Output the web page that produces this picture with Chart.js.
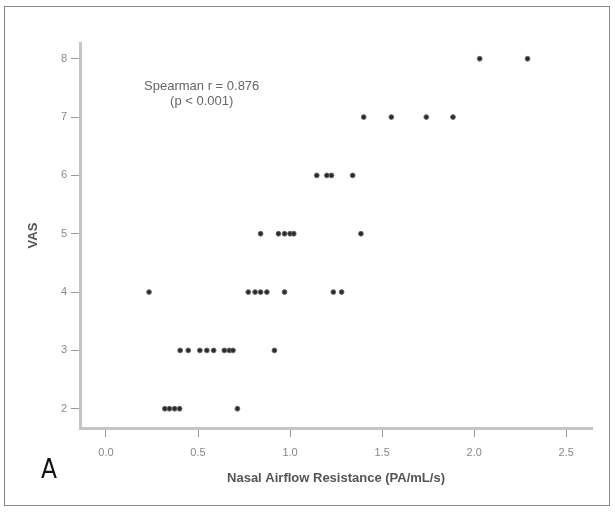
<!DOCTYPE html>
<html>
<head>
<meta charset="utf-8">
<script src="https://cdn.jsdelivr.net/npm/chart.js@4.4.1/dist/chart.umd.min.js"></script>
<style>
  html, body { margin: 0; padding: 0; background: #fff; }
  #wrap { position: relative; width: 615px; height: 512px; }
  #frame { position: absolute; left: 4px; top: 6px; width: 606px; height: 500px; border: 1px solid #8a8a8a; box-sizing: border-box; pointer-events: none; }
  #panel { position: absolute; left: 41px; top: 454px; font: 26px "Liberation Sans Narrow", "DejaVu Sans Condensed", sans-serif; color: #111; }
</style>
</head>
<body>
<div id="wrap">
  <canvas id="chart" width="615" height="512"></canvas>
  <div id="frame"></div>
  <div id="panel">A</div>
</div>
<script>
// VAS score groups and the nasal airflow resistance of each patient
const vasLevels = [2, 3, 4, 5, 6, 7, 8];
const vas2 = [0.32, 0.345, 0.373, 0.40, 0.714];
const vas3 = [0.403, 0.447, 0.51, 0.548, 0.585, 0.643, 0.67, 0.69, 0.915];
const vas4 = [0.234, 0.773, 0.81, 0.84, 0.874, 0.97, 1.235, 1.28];
const vas5 = [0.84, 0.937, 0.97, 1.0, 1.02, 1.385];
const vas6 = [1.145, 1.20, 1.225, 1.34];
const vas7 = [1.40, 1.55, 1.74, 1.885];
const vas8 = [2.03, 2.29];
const xTicks = [0.0, 0.5, 1.0, 1.5, 2.0, 2.5];

const groups = [vas2, vas3, vas4, vas5, vas6, vas7, vas8];
const datasets = groups.map((xs, i) => ({
  label: 'VAS ' + vasLevels[i],
  data: xs.map(x => ({ x: x, y: vasLevels[i] })),
  pointRadius: 2.4,
  pointBackgroundColor: '#2a2a2a',
  pointBorderColor: '#666',
  pointBorderWidth: 1
}));

// Spearman text inside the plot
const notePlugin = {
  id: 'note',
  afterDatasetsDraw(chart) {
    const ctx = chart.ctx;
    const xs = chart.scales.x, ys = chart.scales.y;
    const cx = xs.getPixelForValue(0.52);
    const cy = ys.getPixelForValue(7.53);
    ctx.save();
    ctx.fillStyle = '#666';
    ctx.font = '13px "Liberation Sans", Arial, sans-serif';
    ctx.textAlign = 'center';
    ctx.textBaseline = 'middle';
    ctx.fillText('Spearman r = 0.876', cx, cy);
    ctx.fillText('(p < 0.001)', cx, cy + 15);
    ctx.restore();
  }
};

new Chart(document.getElementById('chart'), {
  type: 'scatter',
  data: { datasets: datasets },
  options: {
    responsive: false,
    animation: false,
    layout: { padding: { left: 0, right: 23, top: 43, bottom: 26 } },
    plugins: { legend: { display: false }, tooltip: { enabled: false } },
    scales: {
      x: {
        type: 'linear',
        min: -0.141,
        max: 2.64,
        afterBuildTicks(axis) { axis.ticks = xTicks.map(v => ({ value: v })); },
        afterFit(axis) { axis.height = 58; },
        border: { color: '#c4c4c4', width: 3 },
        grid: { drawOnChartArea: false, drawTicks: true, tickLength: 9, color: '#9a9a9a', lineWidth: 1 },
        ticks: {
          color: '#888',
          font: { size: 11, family: 'Liberation Sans' },
          padding: 9,
          callback: v => v.toFixed(1)
        },
        title: {
          display: true,
          text: 'Nasal Airflow Resistance (PA/mL/s)',
          color: '#555',
          font: { size: 13, weight: 'bold', family: 'Liberation Sans' },
          padding: { top: 6, bottom: 0 }
        }
      },
      y: {
        type: 'linear',
        min: 1.67,
        max: 8.27,
        afterBuildTicks(axis) { axis.ticks = vasLevels.map(v => ({ value: v })); },
        afterFit(axis) { axis.width = 80; },
        border: { color: '#c4c4c4', width: 3 },
        grid: { drawOnChartArea: false, drawTicks: true, tickLength: 9, color: '#9a9a9a', lineWidth: 1 },
        ticks: {
          color: '#888',
          font: { size: 11, family: 'Liberation Sans' },
          padding: 4
        },
        title: {
          display: true,
          text: 'VAS',
          color: '#555',
          font: { size: 13, weight: 'bold', family: 'Liberation Sans' },
          padding: { top: 26, bottom: 0 }
        }
      }
    }
  },
  plugins: [notePlugin]
});
</script>
</body>
</html>
